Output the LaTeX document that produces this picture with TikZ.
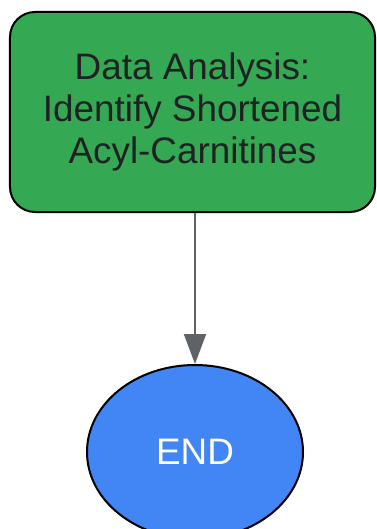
\documentclass[tikz,border=0pt]{standalone}
\usepackage{fontspec}
\setmainfont{Liberation Sans}
\usetikzlibrary{shapes.geometric,arrows.meta,positioning}

\definecolor{stepgreen}{HTML}{34A853}
\definecolor{endblue}{HTML}{4285F4}
\definecolor{textdark}{HTML}{202124}
\definecolor{flowgray}{HTML}{5F6368}

\begin{document}
\begin{tikzpicture}[x=1bp,y=1bp,node distance=340bp,on grid,
			task/.style={rectangle, rounded corners=25bp, draw=black, line width=2bp, fill=stepgreen,
				minimum width=365bp, minimum height=200bp, align=center, text=textdark,
				font=\fontsize{37}{42}\selectfont},
			finish/.style={ellipse, draw=black, line width=2bp, fill=endblue,
				minimum width=216bp, minimum height=174bp, text=white,
				font=\fontsize{37}{42}\selectfont},
			flow/.style={-{Triangle[length=30bp,width=22bp]}, draw=flowgray, line width=2bp}
		]
		\useasboundingbox (0,0) rectangle (376,-529);
		\clip (0,0) rectangle (376,-529);
		
		\node[task] (analysis) at (192.5,-112) {Data Analysis:\\Identify Shortened\\Acyl-Carnitines};
		\node[finish] (end) [below=of analysis, xshift=2.5bp] {END};
		
		\draw[flow] (analysis.south -| end) -- (end.north);
	\end{tikzpicture}
\end{document}
